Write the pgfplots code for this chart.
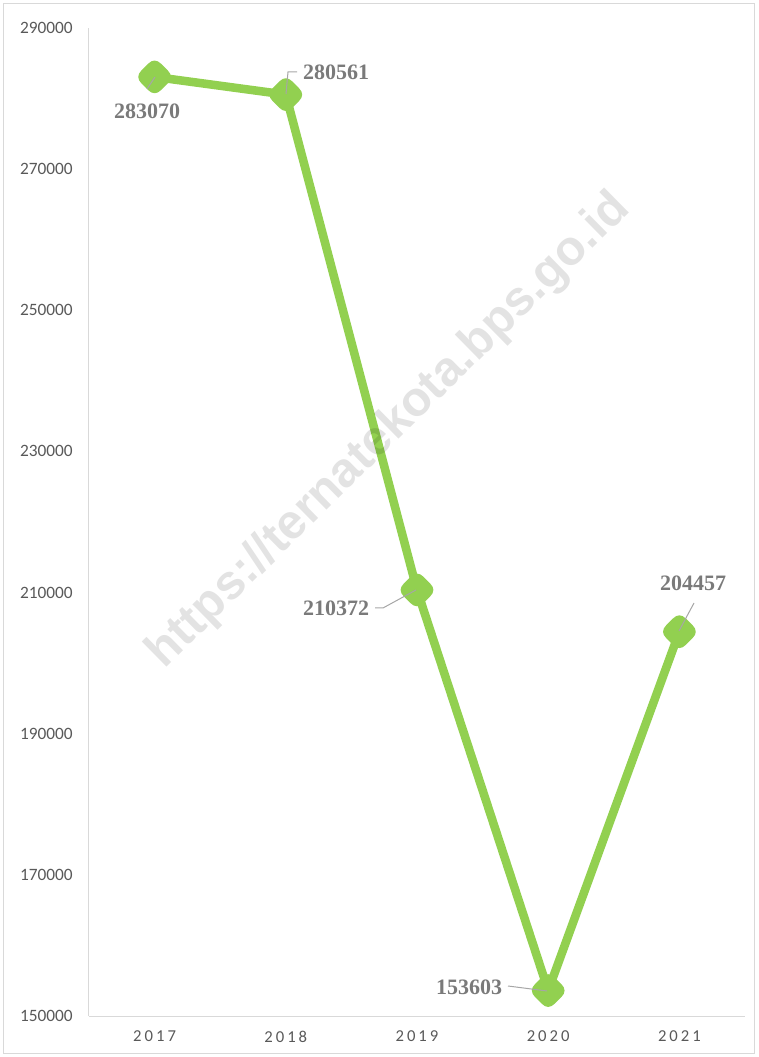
\documentclass[border=0pt]{standalone}
\usepackage{fontspec}
\usepackage{pgfplots}
\pgfplotsset{compat=1.18}
\setmainfont{Carlito}
\newfontfamily\lblfont{Liberation Serif}
\newfontfamily\wmfont{Liberation Sans}
\newfontfamily\xfont[LetterSpace=18]{Carlito}
\definecolor{linegreen}{HTML}{92D050}
\definecolor{ticktext}{HTML}{595959}
\definecolor{lbltext}{HTML}{7A7A7A}
\definecolor{leader}{HTML}{A6A6A6}
\definecolor{axisgray}{HTML}{D9D9D9}
\pgfdeclareplotmark{rdiamond}{%
  \pgfpathmoveto{\pgfqpoint{0.32\pgfplotmarksize}{0.68\pgfplotmarksize}}%
  \pgfpathlineto{\pgfqpoint{0.68\pgfplotmarksize}{0.32\pgfplotmarksize}}%
  \pgfpathquadraticcurveto{\pgfqpoint{\pgfplotmarksize}{0pt}}{\pgfqpoint{0.68\pgfplotmarksize}{-0.32\pgfplotmarksize}}%
  \pgfpathlineto{\pgfqpoint{0.32\pgfplotmarksize}{-0.68\pgfplotmarksize}}%
  \pgfpathquadraticcurveto{\pgfqpoint{0pt}{-\pgfplotmarksize}}{\pgfqpoint{-0.32\pgfplotmarksize}{-0.68\pgfplotmarksize}}%
  \pgfpathlineto{\pgfqpoint{-0.68\pgfplotmarksize}{-0.32\pgfplotmarksize}}%
  \pgfpathquadraticcurveto{\pgfqpoint{-\pgfplotmarksize}{0pt}}{\pgfqpoint{-0.68\pgfplotmarksize}{0.32\pgfplotmarksize}}%
  \pgfpathlineto{\pgfqpoint{-0.32\pgfplotmarksize}{0.68\pgfplotmarksize}}%
  \pgfpathquadraticcurveto{\pgfqpoint{0pt}{\pgfplotmarksize}}{\pgfqpoint{0.32\pgfplotmarksize}{0.68\pgfplotmarksize}}%
  \pgfpathclose
  \pgfusepathqfillstroke
}
\begin{document}
\begin{tikzpicture}
\begin{axis}[
  at={(0,0)}, anchor=south west,
  scale only axis,
  width=492pt, height=741pt,
  xmin=-0.5, xmax=4.5,
  ymin=150000, ymax=290000,
  xtick={0,1,2,3,4},
  xticklabels={2017,2018,2019,2020,2021},
  ytick={150000,170000,190000,210000,230000,250000,270000,290000},
  scaled y ticks=false,
  axis lines=left,
  axis line style={draw=axisgray, line width=0.75pt, -},
  major tick length=0pt,
  clip=false,
  /pgf/number format/.cd, fixed, set thousands separator={}, assume math mode=true,
  /pgfplots/.cd,
  yticklabel style={font=\fontsize{13}{15}\selectfont, text=ticktext, anchor=east, inner sep=0pt, xshift=-12pt},
  xticklabel style={font=\xfont\fontsize{12.5}{15}\selectfont, text=ticktext, anchor=north, inner sep=0pt, yshift=-11pt},
]
\addplot[color=linegreen, line width=6.4pt, line join=round,
  mark=rdiamond, mark size=14pt,
  mark options={fill=linegreen, draw=linegreen, line width=1pt}]
  coordinates {(0,283070) (1,280561) (2,210372) (3,153603) (4,204457)};
\end{axis}
\begin{scope}[x=0.75pt, y=-0.75pt, shift={(-66.75pt,762pt)}]
  \path (0,0) rectangle (758,1057);
  \draw[axisgray, line width=0.75pt] (4,4) rectangle (754,1053);
  % leader lines
  \draw[leader, line width=0.75pt] (147,89) -- (155,77);
  \draw[leader, line width=0.75pt] (286,94) -- (288,72) -- (297,72);
  \draw[leader, line width=0.75pt] (375,608) -- (383,608) -- (416,590);
  \draw[leader, line width=0.75pt] (508,986) -- (547,991);
  \draw[leader, line width=0.75pt] (694,603) -- (679,631);
  % data labels
  \begin{scope}[every node/.style={inner sep=0pt, text=lbltext, font=\lblfont\bfseries\fontsize{16.5}{18}\selectfont}]
    \node at (147,111) {283070};
    \node at (336,72) {280561};
    \node at (336,608) {210372};
    \node at (469,987) {153603};
    \node at (693,583) {204457};
  \end{scope}
  % watermark
  \node[rotate=44.5, anchor=base, inner sep=0pt, text=black, text opacity=0.11,
        font=\wmfont\bfseries\fontsize{36.5}{40}\selectfont] at (398,440) {https://ternatekota.bps.go.id};
\end{scope}
\end{tikzpicture}
\end{document}
